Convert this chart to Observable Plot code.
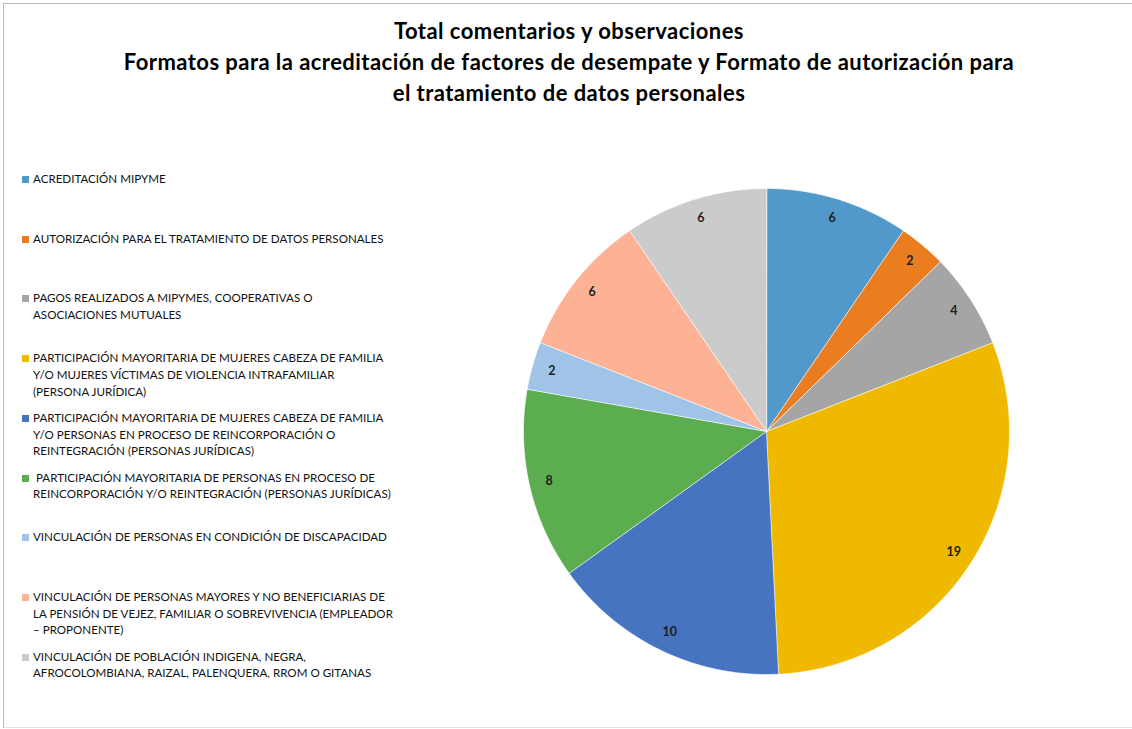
<!DOCTYPE html>
<html>
<head>
<meta charset="utf-8">
<script src="https://cdn.jsdelivr.net/npm/d3@7"></script>
<script src="https://cdn.jsdelivr.net/npm/@observablehq/plot@0.6"></script>
<style>
  html, body { margin: 0; padding: 0; background: #fff; }
  body { width: 1132px; height: 729px; position: relative; overflow: hidden; font-family: Lato, "Open Sans", sans-serif; }
  #frame { position: absolute; left: 3px; top: 3px; width: 1140px; height: 723px; border-left: 1.5px solid #b9b9b9; border-top: 1.5px solid #b9b9b9; border-bottom: 1px solid #e2e2e2; }
  #title { position: absolute; left: 0; width: 1138px; top: 15px; text-align: center; font-weight: bold; font-size: 22px; letter-spacing: 0.45px; line-height: 31px; color: #000; }
  #legend { position: absolute; left: 0; top: 0; }
  .item { position: absolute; left: 33px; font-size: 11.6px; line-height: 16.7px; color: #111; white-space: nowrap; }
  .sw { position: absolute; left: -11px; top: 5px; width: 7px; height: 7px; }
  #pie { position: absolute; left: 506px; top: 171px; }
</style>
</head>
<body>
<div id="frame"></div>
<div id="title">Total comentarios y observaciones<br>Formatos para la acreditación de factores de desempate y Formato de autorización para<br>el tratamiento de datos personales</div>
<div id="legend"></div>
<div id="pie"></div>
<script>
const categories = [
  "ACREDITACIÓN MIPYME",
  "AUTORIZACIÓN PARA EL TRATAMIENTO DE DATOS PERSONALES",
  "PAGOS REALIZADOS A MIPYMES, COOPERATIVAS O ASOCIACIONES MUTUALES",
  "PARTICIPACIÓN MAYORITARIA DE MUJERES CABEZA DE FAMILIA Y/O MUJERES VÍCTIMAS DE VIOLENCIA INTRAFAMILIAR (PERSONA JURÍDICA)",
  "PARTICIPACIÓN MAYORITARIA DE MUJERES CABEZA DE FAMILIA Y/O PERSONAS EN PROCESO DE REINCORPORACIÓN O REINTEGRACIÓN (PERSONAS JURÍDICAS)",
  "PARTICIPACIÓN MAYORITARIA DE PERSONAS EN PROCESO DE REINCORPORACIÓN Y/O REINTEGRACIÓN (PERSONAS JURÍDICAS)",
  "VINCULACIÓN DE PERSONAS EN CONDICIÓN DE DISCAPACIDAD",
  "VINCULACIÓN DE PERSONAS MAYORES Y NO BENEFICIARIAS DE LA PENSIÓN DE VEJEZ, FAMILIAR O SOBREVIVENCIA (EMPLEADOR – PROPONENTE)",
  "VINCULACIÓN DE POBLACIÓN INDIGENA, NEGRA, AFROCOLOMBIANA, RAIZAL, PALENQUERA, RROM O GITANAS"
];
const legendLines = [
  ["ACREDITACIÓN MIPYME"],
  ["AUTORIZACIÓN PARA EL TRATAMIENTO DE DATOS PERSONALES"],
  ["PAGOS REALIZADOS A MIPYMES, COOPERATIVAS O", "ASOCIACIONES MUTUALES"],
  ["PARTICIPACIÓN MAYORITARIA DE MUJERES CABEZA DE FAMILIA", "Y/O MUJERES VÍCTIMAS DE VIOLENCIA INTRAFAMILIAR", "(PERSONA JURÍDICA)"],
  ["PARTICIPACIÓN MAYORITARIA DE MUJERES CABEZA DE FAMILIA", "Y/O PERSONAS EN PROCESO DE REINCORPORACIÓN O", "REINTEGRACIÓN (PERSONAS JURÍDICAS)"],
  ["&nbsp;PARTICIPACIÓN MAYORITARIA DE PERSONAS EN PROCESO DE", "REINCORPORACIÓN Y/O REINTEGRACIÓN (PERSONAS JURÍDICAS)"],
  ["VINCULACIÓN DE PERSONAS EN CONDICIÓN DE DISCAPACIDAD"],
  ["VINCULACIÓN DE PERSONAS MAYORES Y NO BENEFICIARIAS DE", "LA PENSIÓN DE VEJEZ, FAMILIAR O SOBREVIVENCIA (EMPLEADOR", "– PROPONENTE)"],
  ["VINCULACIÓN DE POBLACIÓN INDIGENA, NEGRA,", "AFROCOLOMBIANA, RAIZAL, PALENQUERA, RROM O GITANAS"]
];
const values = [6, 2, 4, 19, 10, 8, 2, 6, 6];
const colors = ["#5299cb", "#e97d20", "#a5a5a5", "#efb900", "#4674c1", "#5cad4f", "#9fc4e7", "#fdb296", "#cbcbcb"];

// Legend (HTML)
const legend = document.getElementById("legend");
categories.forEach((c, i) => {
  const div = document.createElement("div");
  div.className = "item";
  div.style.top = (171 + i * 59.7) + "px";
  div.innerHTML = `<span class="sw" style="background:${colors[i]}"></span>` + legendLines[i].join("<br>");
  legend.appendChild(div);
});

// Pie geometry from d3.pie
const R = 243, labelR = 223;
const arcs = d3.pie().sort(null).value(d => d)(values);
const poly = [];
const labels = [];
arcs.forEach((a, i) => {
  const cat = categories[i];
  poly.push({cat, x: 0, y: 0});
  const n = Math.max(2, Math.ceil((a.endAngle - a.startAngle) / (Math.PI / 360)));
  for (let k = 0; k <= n; k++) {
    const t = a.startAngle + (a.endAngle - a.startAngle) * k / n;
    poly.push({cat, x: R * Math.sin(t), y: R * Math.cos(t)});
  }
  const m = (a.startAngle + a.endAngle) / 2;
  labels.push({cat, value: values[i], x: labelR * Math.sin(m), y: labelR * Math.cos(m)});
});

const chart = Plot.plot({
  width: 520,
  height: 520,
  margin: 0,
  x: {domain: [-260, 260], axis: null},
  y: {domain: [-260, 260], axis: null},
  color: {domain: categories, range: colors},
  marks: [
    Plot.line(poly, {x: "x", y: "y", z: "cat", fill: "cat", stroke: "white", strokeWidth: 0.6, curve: "linear-closed"}),
    Plot.text(labels, {x: "x", y: "y", text: "value", fontSize: 12.5, fontWeight: "bold", fill: "#1e1e1e", fontFamily: "Lato, sans-serif"})
  ]
});
document.getElementById("pie").appendChild(chart);
</script>
</body>
</html>
